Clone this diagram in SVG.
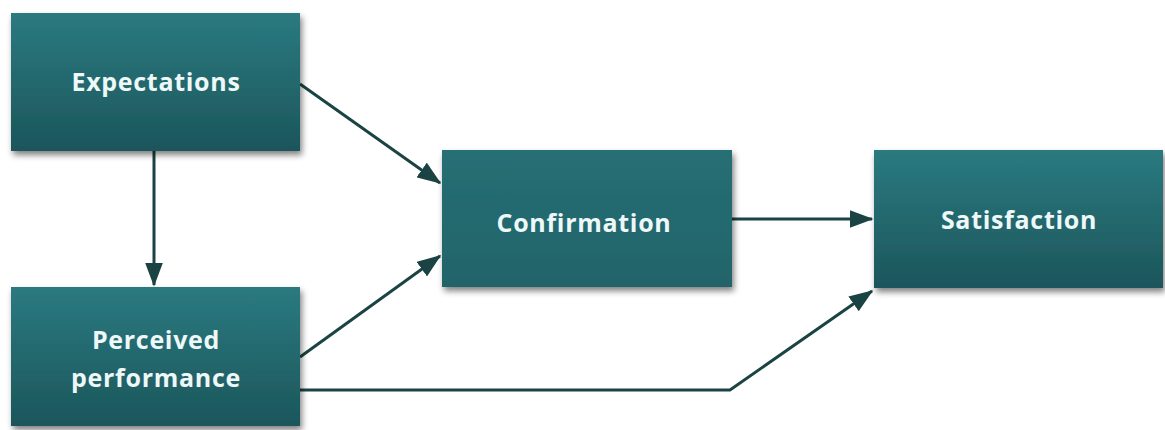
<svg xmlns="http://www.w3.org/2000/svg" width="1165" height="430" viewBox="0 0 1165 430">
<defs>
<linearGradient id="g" x1="0" y1="0" x2="0" y2="1">
<stop offset="0" stop-color="#2a7a80"/>
<stop offset="1" stop-color="#1c565b"/>
</linearGradient>
<linearGradient id="g2" x1="0" y1="0" x2="0" y2="1">
<stop offset="0" stop-color="#266f74"/>
<stop offset="1" stop-color="#20646a"/>
</linearGradient>
<filter id="sh" x="-10%" y="-10%" width="125%" height="130%">
<feGaussianBlur in="SourceAlpha" stdDeviation="3"/>
<feOffset dx="2" dy="4"/>
<feComponentTransfer><feFuncA type="linear" slope="0.5"/></feComponentTransfer>
<feMerge><feMergeNode/><feMergeNode in="SourceGraphic"/></feMerge>
</filter>
<marker id="ah" markerWidth="8" markerHeight="6" refX="7.5" refY="3" orient="auto" markerUnits="strokeWidth">
<path d="M0,0 L8,3 L0,6 Z" fill="#1b4344"/>
</marker>
<style>
.box{fill:url(#g);filter:url(#sh);}
.flat{fill:url(#g2);}
.lbl{font-family:"Open Sans","Liberation Sans",sans-serif;font-weight:bold;font-size:25px;letter-spacing:0.7px;fill:#eef8f8;text-anchor:middle;}
.c{fill:none;stroke:#1b4344;stroke-width:3;marker-end:url(#ah);}
</style>
</defs>
<rect width="1165" height="430" fill="#ffffff"/>
<g id="connectors">
<path class="c" d="M300,84 L440,183"/>
<path class="c" d="M154,151 L154,285"/>
<path class="c" d="M300,357 L440,256"/>
<path class="c" d="M732,219 L872,219"/>
<path class="c" d="M300,390 L730,390 L872,291"/>
</g>
<g id="expectations">
<rect class="box" x="11" y="13" width="289" height="138"/>
<text class="lbl" x="156" y="91">Expectations</text>
</g>
<g id="perceived">
<rect class="box" x="11" y="287" width="289" height="139"/>
<text class="lbl" x="156" y="349">Perceived</text>
<text class="lbl" x="156" y="387">performance</text>
</g>
<g id="confirmation">
<rect class="box flat" x="442" y="150" width="290" height="137"/>
<text class="lbl" x="584" y="232">Confirmation</text>
</g>
<g id="satisfaction">
<rect class="box" x="874" y="150" width="289" height="138"/>
<text class="lbl" x="1019" y="229">Satisfaction</text>
</g>
</svg>
